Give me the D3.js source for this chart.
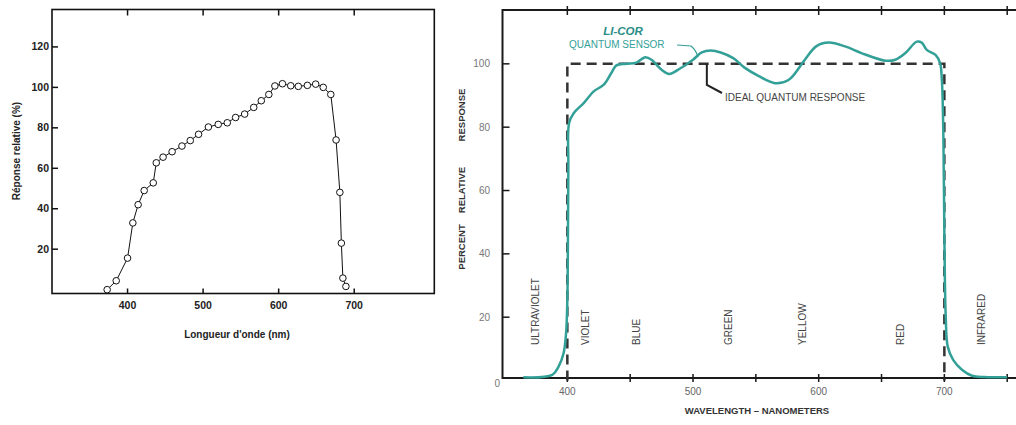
<!DOCTYPE html>
<html>
<head>
<meta charset="utf-8">
<script src="https://cdn.jsdelivr.net/npm/d3@7"></script>
<style>
  body { margin: 0; background: #fff; }
  svg { display: block; font-family: "Liberation Sans", Arial, sans-serif; }
</style>
</head>
<body>
<svg width="1016" height="425"></svg>
<script>
// left chart: measured points (wavelength nm, relative response %)
var leftWave = [373, 385, 400, 407, 414, 422, 434, 438, 447, 459, 472, 483, 494, 507, 520, 532,
                543, 555, 567, 577, 587, 595, 605, 616, 626, 638, 649, 659, 669, 676, 681, 683, 685, 689];
var leftResp = [0, 4.4, 15.6, 33, 42, 49, 52.8, 62.7, 65.5, 68.2, 71, 73.7, 76.8, 80.4, 81.7, 82.5,
                85.1, 86.8, 90.1, 93.4, 96.5, 100.7, 101.8, 100.8, 100.5, 101, 101.6, 100, 96.5, 74, 48.1, 23, 5.7, 1.6];
var leftXTicks = [400, 500, 600, 700];
var leftYTicks = [20, 40, 60, 80, 100, 120];

// right chart: LI-COR quantum sensor curve
var sensorWave = [365, 388, 393, 397, 399, 400, 400.5, 400.8, 401.4, 405, 413, 421, 429, 435, 439, 447,
                  455, 462, 467, 475, 481, 490, 500, 507, 514, 522, 532, 541, 552, 565, 576, 589, 598, 608,
                  621, 634, 653, 661, 669, 678, 682, 686, 693, 696.6, 698, 699.2, 700, 701.1, 702.7, 707,
                  714, 722, 732, 750];
var sensorResp = [1, 1.8, 4.4, 8.6, 15, 25.5, 46.5, 67.6, 81.3, 84.4, 87.6, 91.3, 93.4, 97.1, 99.5, 100,
                  100.4, 102.1, 101.3, 98.1, 96.8, 98.6, 101.3, 103.6, 104.2, 103.6, 101.8, 98.8, 96.2, 93.9, 94.9, 101.3, 105.5, 106.7,
                  105.5, 103.4, 101, 101.3, 103.4, 107, 106.7, 104.4, 102.8, 100.2, 95, 78.1, 46.5, 20.2, 10.7, 6.5,
                  3.4, 1.5, 1.1, 1];
var idealWave = [400, 400, 700, 700];
var idealResp = [0, 100, 100, 0];
var rightXTicks = [400, 450, 500, 550, 600, 650, 700, 750];
var rightXLabels = [400, 500, 600, 700];
var rightYTicks = [20, 40, 60, 80, 100];
var bandNames = ["ULTRAVIOLET", "VIOLET", "BLUE", "GREEN", "YELLOW", "RED", "INFRARED"];
var bandWave = [374, 414, 455, 528, 587, 665, 729];

var svg = d3.select("svg");
var teal = "#33a098";

//----- Left chart -----
var lx = d3.scaleLinear().domain([300, 806]).range([52, 434.3]);
var ly = d3.scaleLinear().domain([-1.9, 138.5]).range([293.5, 9.5]);
var left = svg.append("g");
var leftPts = leftWave.map(function(w, i) { return {w: w, r: leftResp[i]}; });

left.append("rect")
  .attr("x", lx.range()[0]).attr("y", ly.range()[1])
  .attr("width", lx.range()[1] - lx.range()[0])
  .attr("height", ly.range()[0] - ly.range()[1])
  .attr("fill", "none").attr("stroke", "#111").attr("stroke-width", 1.6);

// ticks on top and bottom, pointing inward
left.selectAll(".xt").data(leftXTicks).enter().append("path")
  .attr("d", function(d) { return "M" + lx(d) + "," + (ly.range()[0]) + "v-5M" + lx(d) + "," + ly.range()[1] + "v6"; })
  .attr("stroke", "#111").attr("stroke-width", 1.5);
left.selectAll(".yt").data(leftYTicks).enter().append("path")
  .attr("d", function(d) { return "M" + lx.range()[0] + "," + ly(d) + "h6"; })
  .attr("stroke", "#111").attr("stroke-width", 1.5);

left.selectAll(".xl").data(leftXTicks).enter().append("text")
  .attr("x", function(d) { return lx(d); }).attr("y", 309)
  .attr("text-anchor", "middle").attr("font-size", 10.5).attr("font-weight", "bold").attr("fill", "#222")
  .text(function(d) { return d; });
left.selectAll(".yl").data(leftYTicks).enter().append("text")
  .attr("x", 49).attr("y", function(d) { return ly(d) + 3.5; })
  .attr("text-anchor", "end").attr("font-size", 10.5).attr("font-weight", "bold").attr("fill", "#222")
  .text(function(d) { return d; });

left.append("text")
  .attr("x", 237).attr("y", 338)
  .attr("text-anchor", "middle").attr("font-size", 10).attr("font-weight", "bold").attr("fill", "#222")
  .text("Longueur d'onde (nm)");
left.append("text")
  .attr("transform", "translate(20,151) rotate(-90)")
  .attr("text-anchor", "middle").attr("font-size", 10).attr("font-weight", "bold").attr("fill", "#222")
  .text("Réponse relative (%)");

left.append("path").datum(leftPts)
  .attr("fill", "none").attr("stroke", "#111").attr("stroke-width", 1)
  .attr("d", d3.line().x(function(d) { return lx(d.w); }).y(function(d) { return ly(d.r); }));
left.selectAll(".pt").data(leftPts).enter().append("circle")
  .attr("cx", function(d) { return lx(d.w); })
  .attr("cy", function(d) { return ly(d.r); })
  .attr("r", 3.3)
  .attr("fill", "#fff").attr("stroke", "#111").attr("stroke-width", 1);

//----- Right chart -----
var rx = d3.scaleLinear().domain([348.4, 770]).range([502.5, 502.5 + 421.6 * 1.2567]);
var ry = d3.scaleLinear().domain([0.8, 117]).range([378, 10]);
var right = svg.append("g");

right.append("rect")
  .attr("x", rx.range()[0]).attr("y", ry.range()[1])
  .attr("width", rx.range()[1] - rx.range()[0])
  .attr("height", ry.range()[0] - ry.range()[1])
  .attr("fill", "none").attr("stroke", "#1a1a1a").attr("stroke-width", 2);

right.selectAll(".xt").data(rightXTicks).enter().append("path")
  .attr("d", function(d) { return "M" + rx(d) + "," + (ry.range()[0] - 4) + "v8M" + rx(d) + "," + (ry.range()[1] - 4) + "v9"; })
  .attr("stroke", "#1a1a1a").attr("stroke-width", 1.5);
right.selectAll(".yt").data(rightYTicks).enter().append("path")
  .attr("d", function(d) { return "M" + rx.range()[0] + "," + ry(d) + "h7"; })
  .attr("stroke", "#1a1a1a").attr("stroke-width", 1.5);

right.selectAll(".xl").data(rightXLabels).enter().append("text")
  .attr("x", function(d) { return rx(d); }).attr("y", 395)
  .attr("text-anchor", "middle").attr("font-size", 10).attr("fill", "#666")
  .text(function(d) { return d; });
right.selectAll(".yl").data(rightYTicks).enter().append("text")
  .attr("x", 490).attr("y", function(d) { return ry(d) + 3.5; })
  .attr("text-anchor", "end").attr("font-size", 10).attr("fill", "#777")
  .text(function(d) { return d; });
right.append("text")
  .attr("x", 500).attr("y", ry(0) + 6)
  .attr("text-anchor", "end").attr("font-size", 10).attr("fill", "#777")
  .text("0");

right.append("text")
  .attr("x", 757).attr("y", 414)
  .attr("text-anchor", "middle").attr("font-size", 9.5).attr("font-weight", "bold").attr("fill", "#333")
  .text("WAVELENGTH – NANOMETERS");
// y title: three spaced words
[["PERCENT", 247], ["RELATIVE", 190], ["RESPONSE", 115]].forEach(function(p) {
  right.append("text")
    .attr("transform", "translate(465," + p[1] + ") rotate(-90)")
    .attr("text-anchor", "middle").attr("font-size", 9.5).attr("font-weight", "bold").attr("fill", "#333")
    .text(p[0]);
});

// band labels, reading upward
right.selectAll(".band").data(bandNames).enter().append("text")
  .attr("transform", function(d, i) { return "translate(" + (rx(bandWave[i]) + 4) + ",345) rotate(-90)"; })
  .attr("font-size", 10).attr("fill", "#444")
  .text(function(d) { return d; });

// ideal response (dashed)
right.append("path")
  .datum(idealWave.map(function(w, i) { return {w: w, r: idealResp[i]}; }))
  .attr("fill", "none").attr("stroke", "#333").attr("stroke-width", 2.5)
  .attr("stroke-dasharray", "10,6")
  .attr("d", d3.line().x(function(d) { return rx(d.w); }).y(function(d) { return ry(d.r); }));

// sensor response
right.append("path")
  .datum(sensorWave.map(function(w, i) { return {w: w, r: sensorResp[i]}; }))
  .attr("fill", "none").attr("stroke", teal).attr("stroke-width", 2.5)
  .attr("d", d3.line().curve(d3.curveCatmullRom.alpha(0.5))
    .x(function(d) { return rx(d.w); }).y(function(d) { return ry(d.r); }));

// annotations
right.append("text")
  .attr("x", 623).attr("y", 35)
  .attr("text-anchor", "middle").attr("font-size", 11.5).attr("font-weight", "bold").attr("font-style", "italic")
  .attr("fill", "#2b8d87")
  .text("LI-COR");
right.append("text")
  .attr("x", 569).attr("y", 48)
  .attr("font-size", 10).attr("fill", teal)
  .text("QUANTUM SENSOR");
right.append("path")
  .attr("d", "M677,45 L691,46 Q696,50 698,57")
  .attr("fill", "none").attr("stroke", teal).attr("stroke-width", 1.2);

right.append("path")
  .attr("d", "M" + rx(511) + "," + ry(100) + "V85 L722,93")
  .attr("fill", "none").attr("stroke", "#222").attr("stroke-width", 2);
right.append("text")
  .attr("x", 725).attr("y", 101)
  .attr("font-size", 10).attr("fill", "#444")
  .text("IDEAL QUANTUM RESPONSE");
</script>
</body>
</html>
